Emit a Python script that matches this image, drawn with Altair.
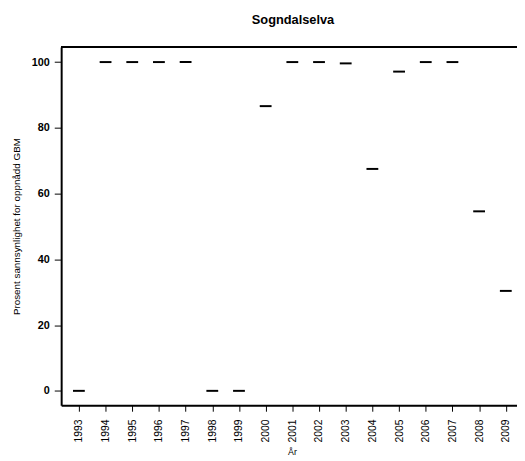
import altair as alt
import pandas as pd

years = list(range(1993, 2010))
values = [0, 100, 100, 100, 100, 0, 0, 86.6, 100, 100, 99.6, 67.5, 97.1, 100, 100, 54.6, 30.4]

df = pd.DataFrame({"year": years, "value": values})

W, H = 463, 364
FONT = "Liberation Sans"

x_scale = alt.Scale(domain=[1992.336, 2009.42], nice=False, zero=False)
y_scale = alt.Scale(domain=[-4.4, 104.6], nice=False, zero=False)

ticks = alt.Chart(df).mark_tick(
    orient="horizontal", size=12, thickness=2, color="black", opacity=1
).encode(
    x=alt.X("year:Q", scale=x_scale,
            axis=alt.Axis(values=years, format="d", labelAngle=-90, labelAlign="right",
                          labelBaseline="middle", labelFontSize=10.5, labelFont=FONT,
                          labelColor="black", labelPadding=8, tickSize=6, tickColor="black",
                          tickWidth=1, domainColor="black", domainWidth=2, grid=False,
                          title="År", titleFont=FONT, titleFontSize=9, titleFontWeight="normal",
                          titleColor="black", titleX=234.5, titleY=47, titleBaseline="middle",
                          titleAlign="center", labelOverlap=False)),
    y=alt.Y("value:Q", scale=y_scale,
            axis=alt.Axis(values=[0, 20, 40, 60, 80, 100], labelFontSize=11, labelFontWeight="bold",
                          labelFont=FONT, labelColor="black", labelPadding=5, tickSize=7,
                          tickColor="black", tickWidth=1, domainColor="black", domainWidth=2,
                          grid=False, title="Prosent sannsynlighet for oppnådd GBM",
                          titleFont=FONT, titleFontSize=10, titleFontWeight="normal",
                          titleColor="black", titleX=-45, titleY=H / 2, titleAngle=-90,
                          titleAlign="center", titleBaseline="middle")),
)

top = alt.Chart(df).mark_rule(color="black", strokeWidth=1.5).encode(
    x=alt.value(0), x2=alt.value(W), y=alt.value(0)
)

chart = alt.layer(ticks, top).properties(
    width=W, height=H,
    title=alt.TitleParams("Sogndalselva", font=FONT, fontSize=13, fontWeight="bold",
                          color="black", offset=20, dx=4),
    autosize=alt.AutoSizeParams(type="none"),
    padding={"left": 54, "top": 36, "right": 0, "bottom": 53},
).configure_view(stroke=None).configure(background="white")

chart.save("out.html", embed_options={"renderer": "svg", "actions": False})
